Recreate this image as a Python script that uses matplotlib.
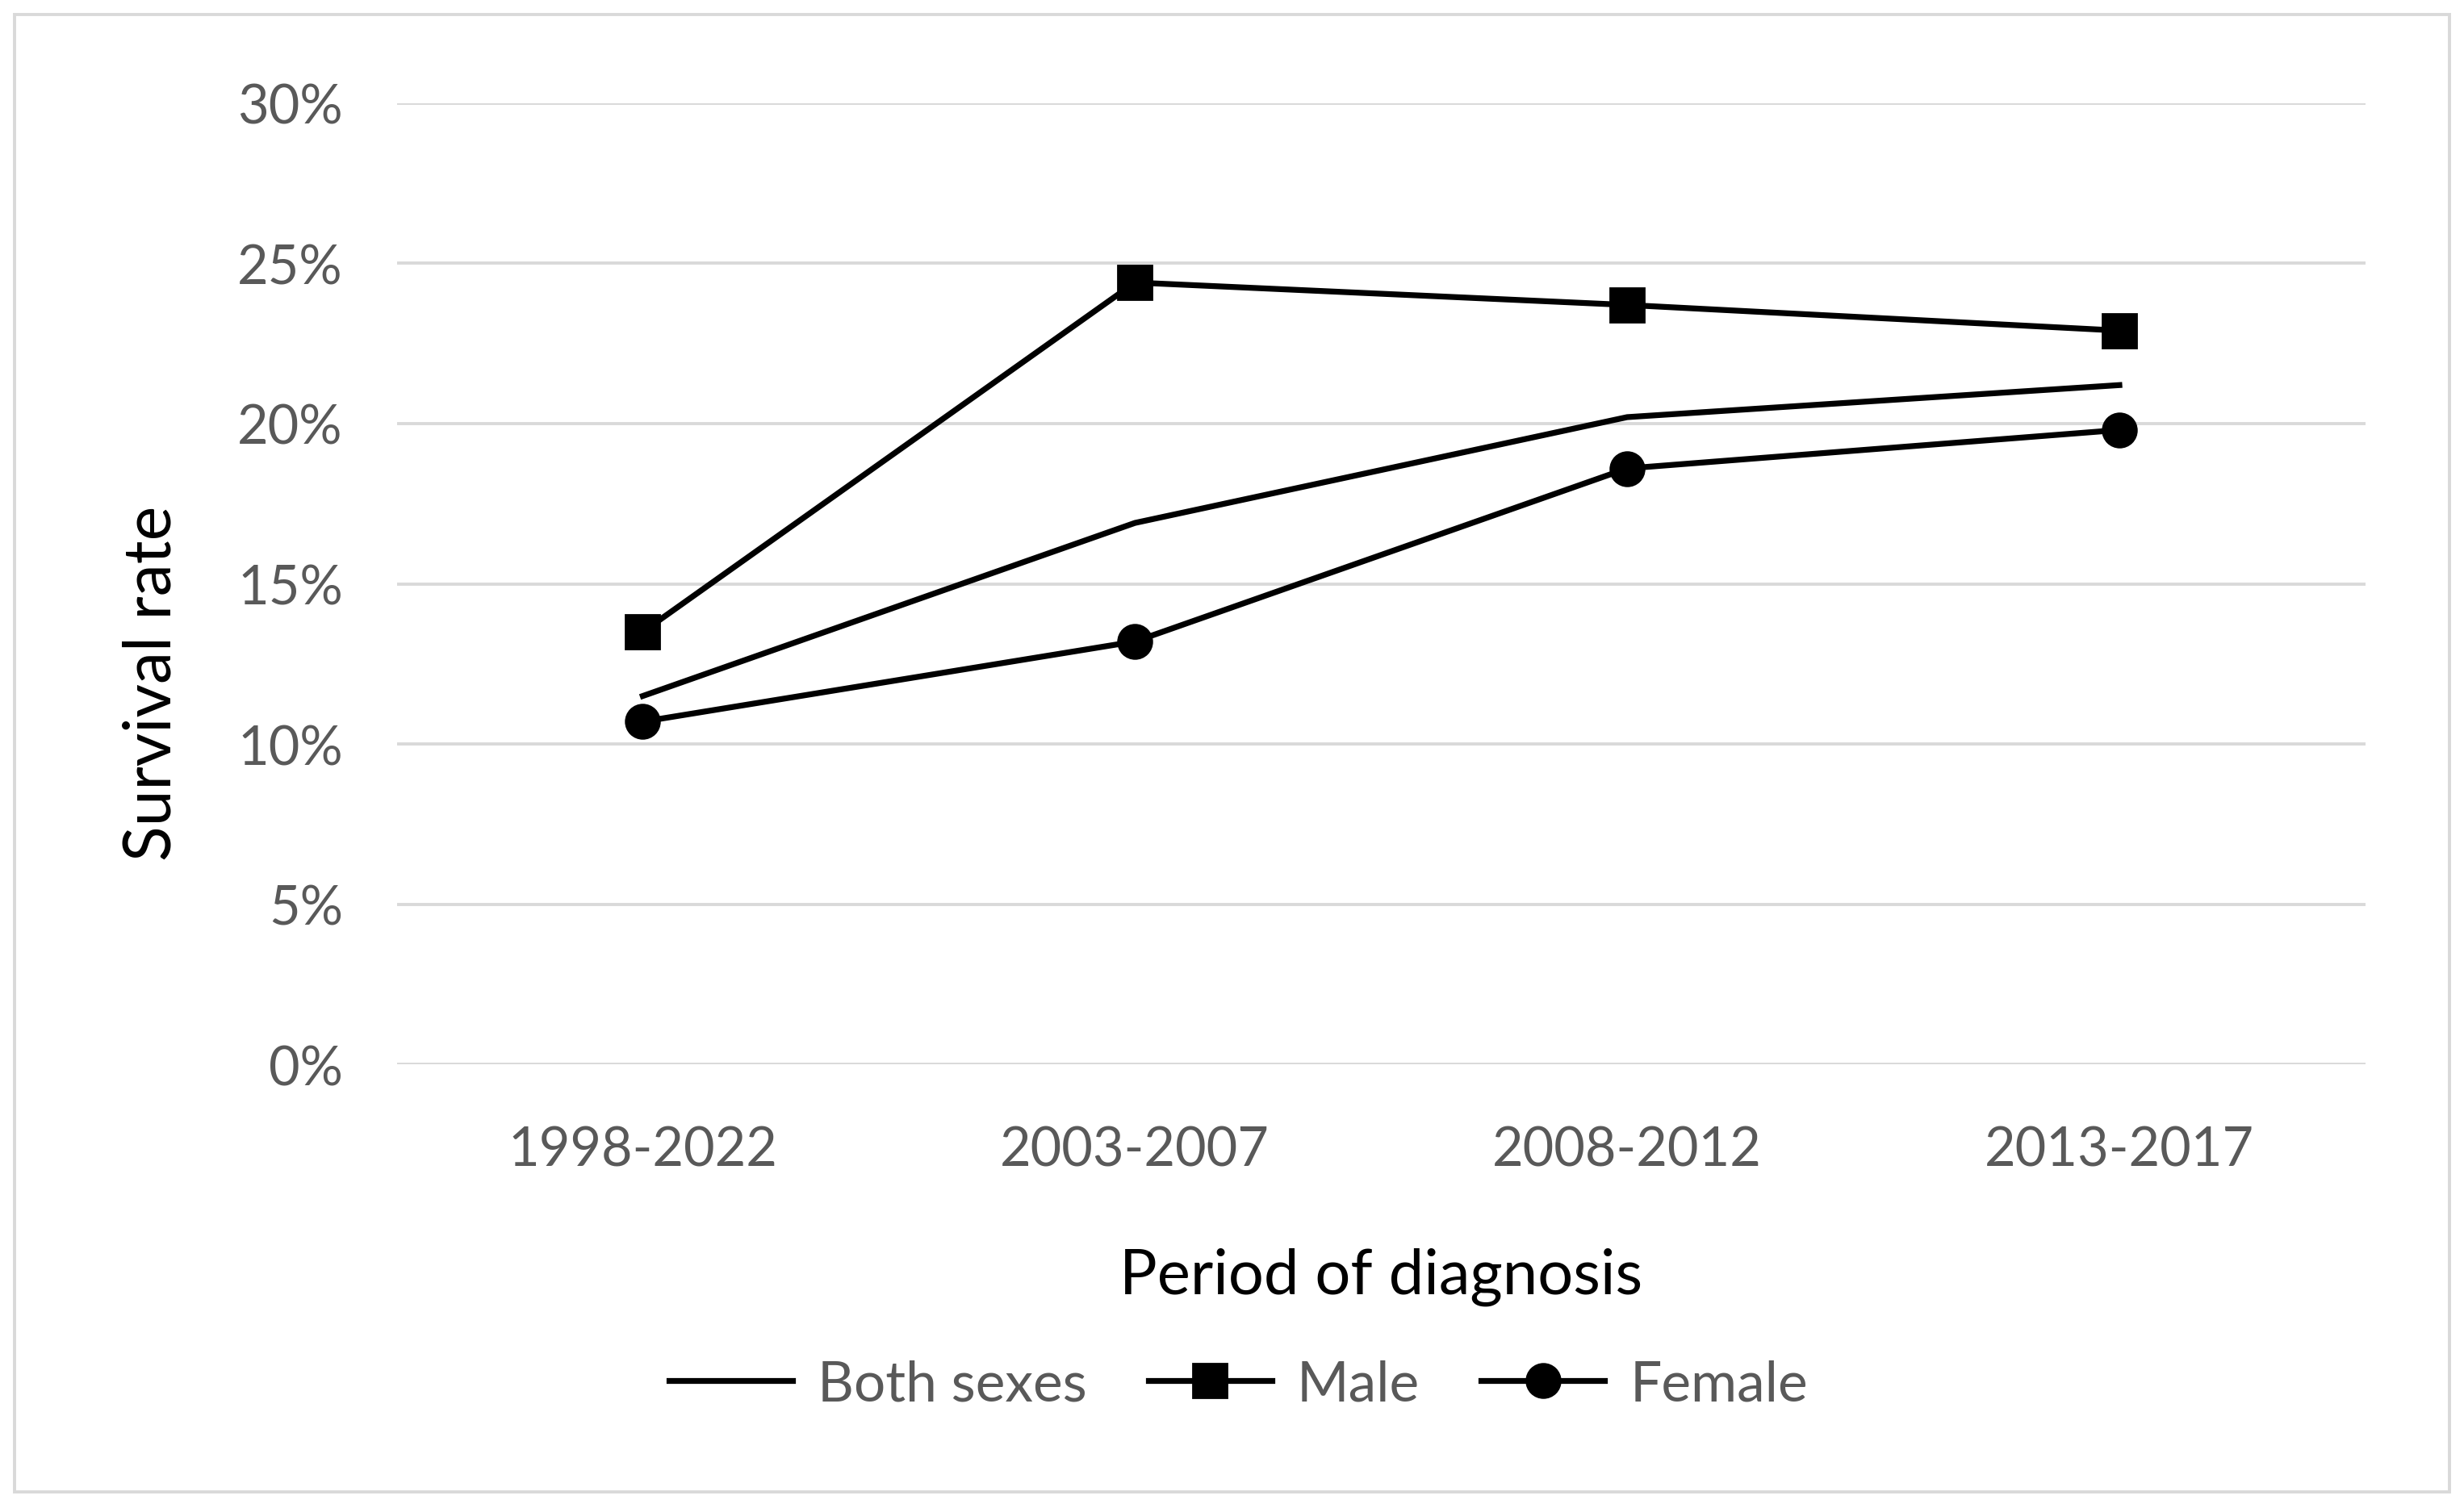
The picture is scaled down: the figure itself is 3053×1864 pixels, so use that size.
import matplotlib.pyplot as plt
from matplotlib.patches import Rectangle
from matplotlib.ticker import PercentFormatter

# Values
periods = ["1998-2022", "2003-2007", "2008-2012", "2013-2017"]
both_sexes = [11.5, 16.9, 20.2, 21.2]
male = [13.5, 24.4, 23.7, 22.9]
female = [10.7, 13.2, 18.6, 19.8]
y_ticks = [0, 5, 10, 15, 20, 25, 30]

gray_text = "#595959"
grid_color = "#D9D9D9"
plt.rcParams['font.family'] = ['Lato', 'DejaVu Sans']

fig = plt.figure(figsize=(15.265, 9.325), dpi=200)
ax = fig.add_axes([0.161, 0.292, 0.799, 0.639])

x = [i + 0.5 for i in range(len(periods))]
ax.plot(x, both_sexes, color="black", lw=2.6, label="Both sexes", zorder=3)
ax.plot(x, male, color="black", lw=2.6, marker="s", markersize=15, label="Male", zorder=3)
ax.plot(x, female, color="black", lw=2.6, marker="o", markersize=15, label="Female", zorder=3)

ax.set_xlim(0, len(periods))
ax.set_ylim(0, 30)
ax.set_yticks(y_ticks)
ax.yaxis.set_major_formatter(PercentFormatter(decimals=0))
ax.set_xticks(x)
ax.set_xticklabels(periods)
ax.grid(axis="y", color=grid_color, lw=1.4, zorder=0)
ax.tick_params(length=0, labelsize=24, labelcolor=gray_text)
ax.tick_params(axis="y", pad=24)
ax.tick_params(axis="x", pad=27)
for side in ax.spines.values():
    side.set_visible(False)

ax.set_xlabel("Period of diagnosis", fontsize=28, labelpad=32)
ax.set_ylabel("Survival rate", fontsize=29)
ax.yaxis.set_label_coords(-0.109, 0.397)

leg = fig.legend(loc="center", bbox_to_anchor=(0.5026, 0.0795), ncol=3,
                 frameon=False, fontsize=25, handlelength=2.2, handletextpad=0.45,
                 columnspacing=1.1)
for t in leg.get_texts():
    t.set_color(gray_text)

# light border around the whole chart
fig.patches.append(Rectangle((0.006, 0.008), 0.988, 0.982, transform=fig.transFigure,
                             fill=False, edgecolor=grid_color, lw=1.4))

fig.savefig("out.png", dpi=200, facecolor="white")
